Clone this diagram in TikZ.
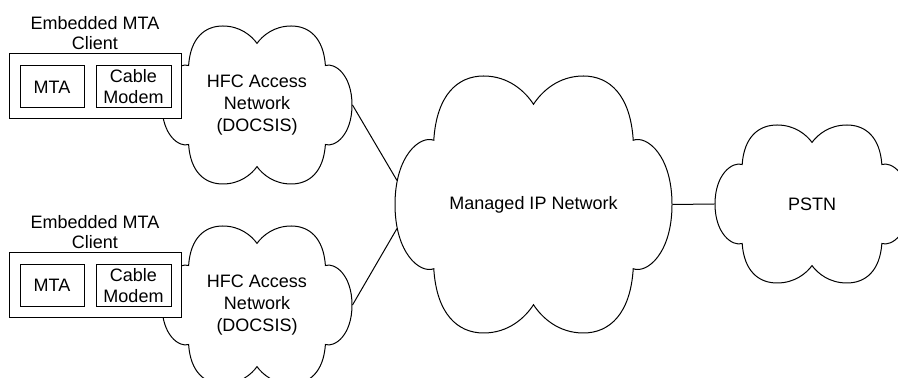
\documentclass[tikz,border=0pt]{standalone}
\usepackage{fontspec}
\setmainfont{Liberation Sans}
\usetikzlibrary{positioning, shapes.geometric}

% outline of a network cloud, drawn in unit coordinates
\newcommand{\cloudoutline}{(-0.72,0.5) .. controls (-0.70,0.85) and (-0.55,1) .. (-0.36,1)
    .. controls (-0.18,1) and (-0.06,0.88) .. (0,0.78)
    .. controls (0.06,0.88) and (0.18,1) .. (0.36,1)
    .. controls (0.55,1) and (0.70,0.85) .. (0.72,0.5)
    .. controls (0.82,0.54) and (1,0.38) .. (1,0)
    .. controls (1,-0.38) and (0.82,-0.54) .. (0.72,-0.5)
    .. controls (0.70,-0.85) and (0.55,-1) .. (0.36,-1)
    .. controls (0.18,-1) and (0.06,-0.88) .. (0,-0.78)
    .. controls (-0.06,-0.88) and (-0.18,-1) .. (-0.36,-1)
    .. controls (-0.55,-1) and (-0.70,-0.85) .. (-0.72,-0.5)
    .. controls (-0.82,-0.54) and (-1,-0.38) .. (-1,0)
    .. controls (-1,0.38) and (-0.82,0.54) .. (-0.72,0.5) -- cycle}

\begin{document}
\begin{tikzpicture}[
    x=0.5pt, y=-0.5pt,
    line width=0.5pt,
    font=\fontsize{9}{10.8}\selectfont,
    CL/.style args = {#1/#2}{ellipse, inner sep=0pt, align=center,
                    minimum width=#1, minimum height=#2},
    BX/.style args = {#1/#2}{draw, fill=white, inner sep=1pt,
                    align=center, font=\fontsize{9}{10.5}\selectfont,
                    minimum width=#1, minimum height=#2},
    TT/.style = {align=center, inner sep=1.5pt,
                    font=\fontsize{9}{10}\selectfont},
    puff/.style = {draw, fill=white},
    link/.style = {draw}]
%---
\useasboundingbox (0,0) rectangle (898,378);
\clip (0,0) rectangle (898,378);
% cloud outlines
\foreach \cx/\cy/\hw/\hh in {257/105/95/79, 257/305/95/79,
        533.5/204.5/138.5/128.5, 812/204/97/79}
    \draw[puff, shift={(\cx,\cy)}, xscale=\hw, yscale=\hh] \cloudoutline;
% clouds
\node (hfcA) [CL=95pt/79pt]         at (257,105)     {HFC Access\\Network\\(DOCSIS)};
\node (hfcB) [CL=95pt/79pt]         at (257,305)     {HFC Access\\Network\\(DOCSIS)};
\node (ip)   [CL=138.5pt/128.5pt]   at (533.5,204.5) {Managed IP Network};
\node (pstn) [CL=97pt/79pt]         at (812,204)     {PSTN};
% top client
\node (cpeA) [BX=86pt/32.5pt]       at (95,86.5)     {};
\node (mtaA) [BX=32pt/21pt]         at (52,87)       {MTA};
\node (cmA)  [BX=37.5pt/21pt, right=5.5pt of mtaA]   {Cable\\Modem};
\node (ttlA) [TT, above=0pt of cpeA]                 {Embedded MTA\\Client};
% bottom client
\node (cpeB) [BX=86pt/32.5pt]       at (95,285.5)    {};
\node (mtaB) [BX=32pt/21pt]         at (52,285.5)    {MTA};
\node (cmB)  [BX=37.5pt/21pt, right=5.5pt of mtaB]   {Cable\\Modem};
\node (ttlB) [TT, above=0pt of cpeB]                 {Embedded MTA\\Client};
% lines
\draw[link] (hfcA.east) -- (ip.170)
            (hfcB.east) -- (ip.190)
            (ip.east) -- (pstn.west);
\end{tikzpicture}
\end{document}
